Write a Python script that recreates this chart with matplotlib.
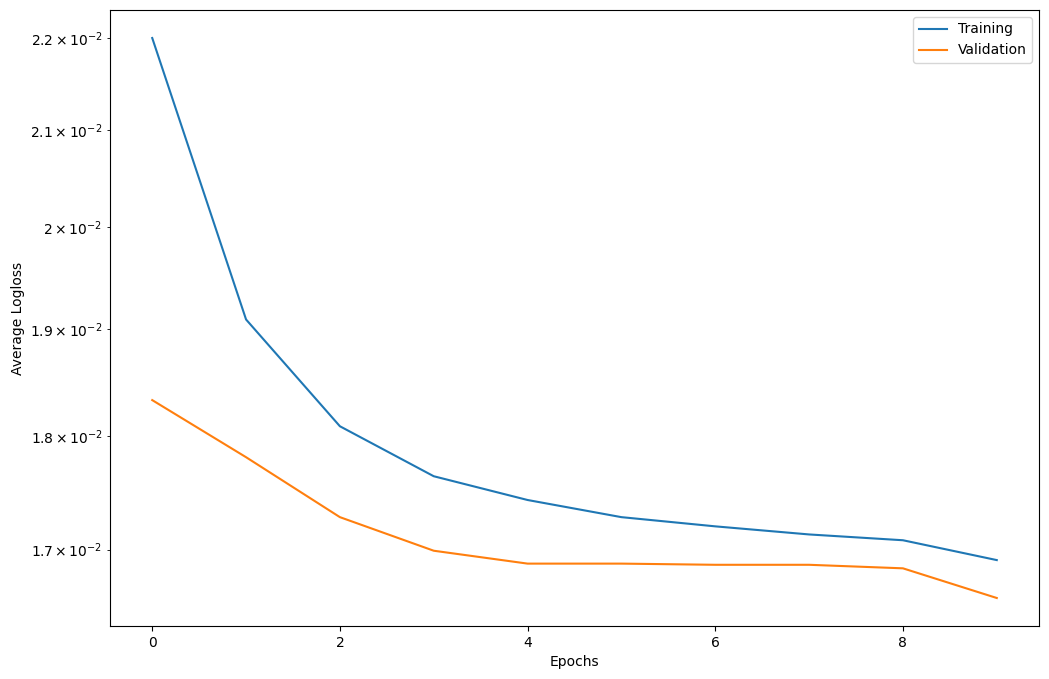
import numpy as np
import matplotlib
matplotlib.use('Agg')
import matplotlib.pyplot as plt

epochs = list(range(10))
training = [0.02200, 0.01909, 0.01809, 0.01764, 0.01743, 0.01728, 0.01720, 0.01713, 0.01708, 0.01691]
validation = [0.01833, 0.01781, 0.01728, 0.01699, 0.01688, 0.01688, 0.01687, 0.01687, 0.01684, 0.01659]

fig = plt.figure(figsize=(10.49, 6.79), dpi=100)
ax = fig.add_axes([110 / 1049, 1 - 626 / 679, 929 / 1049, 616 / 679])
ax.plot(epochs, training, label='Training')
ax.plot(epochs, validation, label='Validation')
ax.set_yscale('log')
ax.set_xlabel('Epochs')
ax.set_ylabel('Average Logloss')
ax.legend()
fig.savefig('out.png', dpi=100)
